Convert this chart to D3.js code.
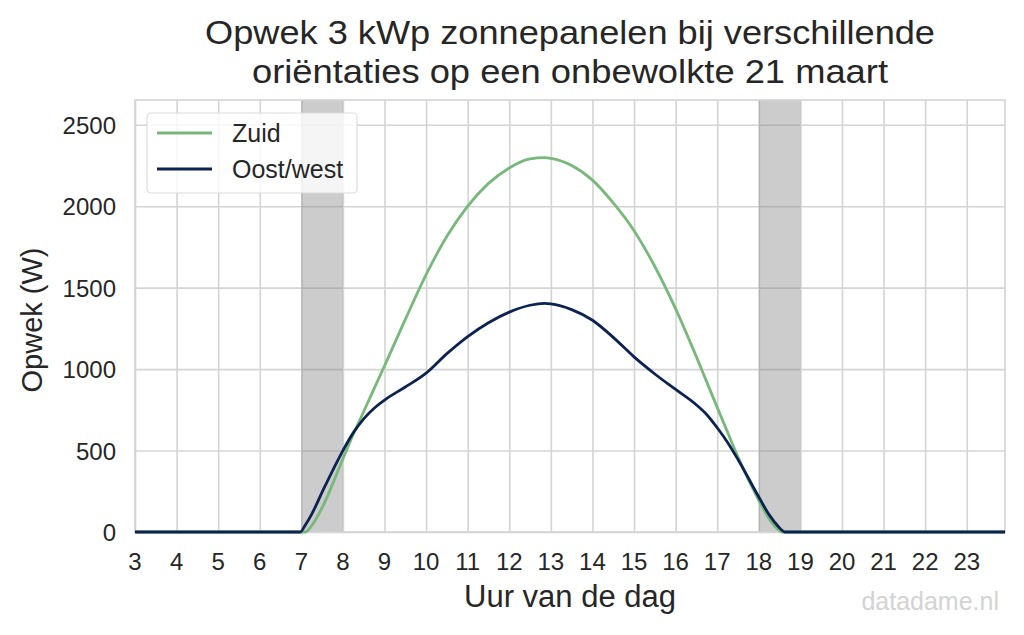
<!DOCTYPE html>
<html>
<head>
<meta charset="utf-8">
<script src="https://cdn.jsdelivr.net/npm/d3@7"></script>
<style>
  body { margin: 0; background: #fff; }
  text { font-family: "Liberation Sans", Arial, sans-serif; fill: #262626; }
</style>
</head>
<body>
<div id="vis"></div>
<script>
// uur van de dag
const hours = [3, 6.97, 7.1, 7.25, 7.5, 8, 8.25, 8.5, 8.75, 9, 9.5, 10, 10.5, 11, 11.5, 12, 12.5, 12.85,
               13, 13.5, 14, 14.5, 15, 15.5, 16, 16.5, 16.75, 17, 17.25, 17.5, 18, 18.25, 18.5, 18.55, 18.62, 23.92];
// opwek in W
const zuid = [0, 0, 0, 40, 150, 450, 600, 740, 880, 1020, 1305, 1580, 1815, 2000, 2140, 2235, 2290, 2298,
              2294, 2250, 2160, 2020, 1850, 1630, 1370, 1075, 920, 765, 612, 460, 195, 80, 8, 0, 0, 0];
const oostWest = [0, 0, 45, 110, 245, 500, 610, 695, 760, 810, 890, 975, 1095, 1200, 1285, 1350, 1392, 1403,
                  1400, 1365, 1300, 1195, 1075, 970, 875, 780, 720, 640, 550, 445, 215, 105, 25, 12, 0, 0];
const xTicks = d3.range(3, 24);
const yTicks = [0, 500, 1000, 1500, 2000, 2500];
const bands = [[7, 8], [18, 19]];
const seriesNames = ["Zuid", "Oost/west"];
const seriesColors = ["#78b87a", "#0c2252"];
const titleLines = ["Opwek 3 kWp zonnepanelen bij verschillende",
                    "oriëntaties op een onbewolkte 21 maart"];

const svg = d3.select("#vis")
    .append("svg")
    .attr("width", 1024)
    .attr("height", 635);

const margin = {left: 135, right: 19, top: 100, bottom: 103};
const width = 1024 - margin.left - margin.right;
const height = 635 - margin.top - margin.bottom;

const x = d3.scaleLinear().domain([3, 23.92]).range([margin.left, margin.left + width]);
const y = d3.scaleLinear().domain([0, 2652]).range([margin.top + height, margin.top]);

// grid
svg.append("g")
    .attr("transform", `translate(0,${margin.top + height})`)
    .call(d3.axisBottom(x).tickValues(xTicks).tickSize(-height).tickFormat(""))
    .call(g => g.select(".domain").remove())
    .call(g => g.selectAll("line").style("stroke", "#d4d4d4").style("stroke-width", 1.6));

svg.append("g")
    .attr("transform", `translate(${margin.left},0)`)
    .call(d3.axisLeft(y).tickValues(yTicks).tickSize(-width).tickFormat(""))
    .call(g => g.select(".domain").remove())
    .call(g => g.selectAll("line").style("stroke", "#d4d4d4").style("stroke-width", 1.6));

// grijze banden (zonsopkomst / ondergang)
svg.append("g")
    .selectAll("rect")
    .data(bands)
    .enter()
    .append("rect")
    .attr("x", d => x(d[0]))
    .attr("width", d => x(d[1]) - x(d[0]))
    .attr("y", margin.top)
    .attr("height", height)
    .style("fill", "#808080")
    .style("fill-opacity", 0.4);

// rand
svg.append("rect")
    .attr("x", margin.left)
    .attr("y", margin.top)
    .attr("width", width)
    .attr("height", height)
    .style("fill", "none")
    .style("stroke", "#d4d4d4")
    .style("stroke-width", 1.6);

// lijnen
const line = d3.line()
    .x((d, i) => x(hours[i]))
    .y(d => y(d))
    .curve(d3.curveMonotoneX);

[zuid, oostWest].forEach((s, i) => {
    svg.append("path")
        .datum(s)
        .attr("d", line)
        .style("fill", "none")
        .style("stroke", seriesColors[i])
        .style("stroke-width", 2.8)
        .style("stroke-linejoin", "round");
});

// as labels
svg.append("g")
    .selectAll("text")
    .data(xTicks)
    .enter()
    .append("text")
    .attr("x", d => x(d))
    .attr("y", 570)
    .attr("text-anchor", "middle")
    .style("font-size", "24px")
    .text(d => d);

svg.append("g")
    .selectAll("text")
    .data(yTicks)
    .enter()
    .append("text")
    .attr("x", 116)
    .attr("y", d => y(d) + 9)
    .attr("text-anchor", "end")
    .style("font-size", "24px")
    .text(d => d);

svg.append("text")
    .attr("x", margin.left + width / 2)
    .attr("y", 607)
    .attr("text-anchor", "middle")
    .style("font-size", "31px")
    .text("Uur van de dag");

svg.append("text")
    .attr("transform", `translate(42,${margin.top + height / 2 + 4}) rotate(-90)`)
    .attr("text-anchor", "middle")
    .style("font-size", "29px")
    .text("Opwek (W)");

// titel
const titleWidths = [730, 636];
titleLines.forEach((t, i) => {
    svg.append("text")
        .attr("x", margin.left + width / 2)
        .attr("y", 44 + i * 39)
        .attr("text-anchor", "middle")
        .attr("textLength", titleWidths[i])
        .attr("lengthAdjust", "spacingAndGlyphs")
        .style("font-size", "33px")
        .text(t);
});

// legenda
const legend = svg.append("g").attr("transform", "translate(147,113)");
legend.append("rect")
    .attr("width", 210)
    .attr("height", 80)
    .attr("rx", 4)
    .style("fill", "#fff")
    .style("fill-opacity", 0.8)
    .style("stroke", "#dcdcdc")
    .style("stroke-width", 1.2);
seriesNames.forEach((n, i) => {
    legend.append("line")
        .attr("x1", 10).attr("x2", 65)
        .attr("y1", 20 + i * 36).attr("y2", 20 + i * 36)
        .style("stroke", seriesColors[i])
        .style("stroke-width", 2.8);
    legend.append("text")
        .attr("x", 85)
        .attr("y", 29 + i * 36)
        .style("font-size", "25px")
        .text(n);
});

// watermerk
svg.append("text")
    .attr("x", 999)
    .attr("y", 610)
    .attr("text-anchor", "end")
    .style("font-size", "25px")
    .style("fill", "#d3d3d3")
    .text("datadame.nl");
</script>
</body>
</html>
